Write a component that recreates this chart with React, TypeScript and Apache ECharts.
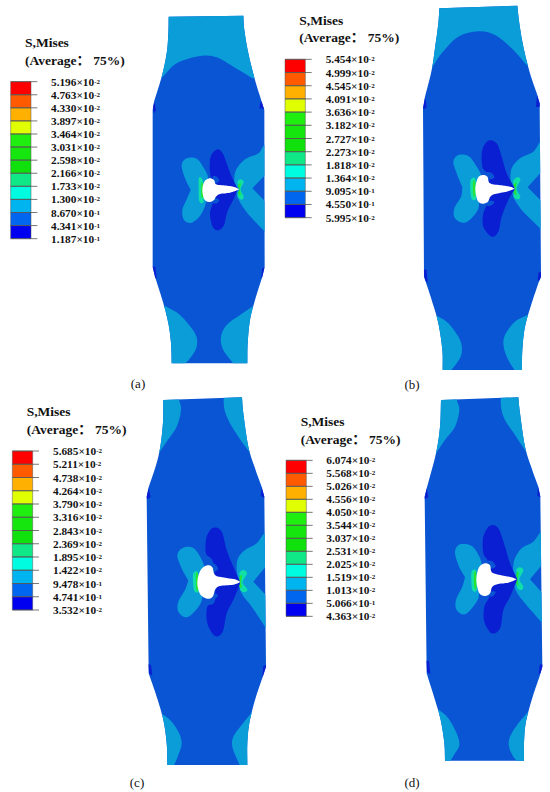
import React, { useEffect, useRef } from "react";
import * as echarts from "echarts";

type P = number[];
const LIGHT = "#0a9dd8", MID = "#0a55d4", DARK = "#0a1fd2", MINT = "#10e0a8", GREEN = "#28e030";
const SCALE_COLORS = ["#ff0000", "#ff5a00", "#ffb000", "#e0ff00", "#20ee10", "#14e60e", "#10e00c", "#10e888", "#00fce0", "#00b4f0", "#0066f0", "#0000f0"];

const labelsA = ["5.196×10^-2", "4.763×10^-2", "4.330×10^-2", "3.897×10^-2", "3.464×10^-2", "3.031×10^-2", "2.598×10^-2", "2.166×10^-2", "1.733×10^-2", "1.300×10^-2", "8.670×10^-1", "4.341×10^-1", "1.187×10^-1"];
const labelsB = ["5.454×10^-2", "4.999×10^-2", "4.545×10^-2", "4.091×10^-2", "3.636×10^-2", "3.182×10^-2", "2.727×10^-2", "2.273×10^-2", "1.818×10^-2", "1.364×10^-2", "9.095×10^-1", "4.550×10^-1", "5.995×10^-2"];
const labelsC = ["5.685×10^-2", "5.211×10^-2", "4.738×10^-2", "4.264×10^-2", "3.790×10^-2", "3.316×10^-2", "2.843×10^-2", "2.369×10^-2", "1.895×10^-2", "1.422×10^-2", "9.478×10^-1", "4.741×10^-1", "3.532×10^-2"];
const labelsD = ["6.074×10^-2", "5.568×10^-2", "5.026×10^-2", "4.556×10^-2", "4.050×10^-2", "3.544×10^-2", "3.037×10^-2", "2.531×10^-2", "2.025×10^-2", "1.519×10^-2", "1.013×10^-2", "5.066×10^-1", "4.363×10^-2"];

// Contour outlines, in 3x panel units; a third entry of 1 marks a sharp corner.
const outlineA: P[] = [[506,50,1],[730,47,1],[733,90],[745,160],[765,240],[785,305,1],[793,330,1],[794,800,1],[787,830,1],[765,900],[750,960],[743,1030],[742,1090,1],[515,1090,1],[513,1030],[505,970],[490,910],[465,830,1],[458,800,1],[458,330,1],[462,305,1],[485,230],[500,160],[505,100]];
const lightA: P[][] = [
  [[420,235,1],[487,232,1],[530,190],[600,168],[650,172],[700,200],[757,235,1],[830,235,1],[830,0,1],[420,0,1]],
  [[420,918,1],[495,918,1],[540,945],[585,1000],[590,1040],[570,1075],[545,1100,1],[420,1100,1]],
  [[830,918,1],[760,918,1],[720,945],[680,975],[663,1010],[670,1050],[708,1100,1],[830,1100,1]],
  [[572,570,1],[555,535],[545,495],[560,475],[590,476],[612,505],[624,535],[610,570],[618,605],[602,645],[575,668],[552,660],[547,630],[560,598]],
  [[830,410,1],[793,435],[775,460],[735,478],[708,510],[703,545],[712,590],[735,630],[770,670],[800,700,1],[830,700,1],[830,640,1],[757,565,1],[830,490,1]],
];
const darkA: P[] = [[652,448],[632,470],[630,520],[640,550],[640,600],[630,640],[638,680],[655,691],[672,675],[682,635],[702,595],[714,568,1],[695,530],[680,490],[668,460]];
const haloA: P[][] = [[[638,530],[650,530],[658,543],[642,550]], [[638,608],[642,594],[658,600],[650,610]]];
const mintA: P[][] = [[[597,533],[608,540],[611,570],[610,606],[598,604],[596,570]], [[712,546],[722,538],[731,546],[722,568],[731,590],[725,599],[714,590],[718,568]]];
const greenA: P[][] = [[[604,552],[609,552],[610,590],[604,590]], [[714,556],[722,550],[720,568],[722,586],[714,580],[718,568]]];
const holeA: P[] = [[628,535],[642,540],[648,553],[670,556],[700,560],[718,568,1],[690,578],[660,582],[648,590],[642,600],[628,606],[613,598],[607,570],[613,545]];

const outlineB: P[] = [[493,25,1],[727,17,1],[733,70],[745,140],[765,220],[787,285,1],[794,310,1],[798,830,1],[790,850,1],[770,910],[750,980],[742,1050],[741,1110,1],[503,1110,1],[502,1050],[490,970],[470,900],[447,830,1],[444,325,1],[450,290,1],[470,210],[482,130],[490,70]];
const lightB: P[][] = [
  [[420,205,1],[470,205,1],[500,160],[550,110],[610,94],[660,105],[710,145],[755,195,1],[830,195,1],[830,0,1],[420,0,1]],
  [[420,945,1],[482,945,1],[520,970],[555,1020],[560,1060],[545,1090],[520,1120,1],[420,1120,1]],
  [[830,945,1],[757,945,1],[720,965],[690,1005],[686,1040],[700,1080],[725,1120,1],[830,1120,1]],
  [[562,562,1],[545,520],[535,485],[550,465],[580,468],[604,498],[618,530],[600,566],[612,610],[602,640],[570,668],[540,655],[538,625],[558,590]],
  [[830,400,1],[796,425],[775,455],[735,475],[710,505],[707,545],[715,590],[740,630],[775,665],[805,695,1],[830,695,1],[830,635,1],[758,562,1],[830,480,1]],
];
const darkB: P[] = [[640,422],[622,450],[622,500],[640,530],[640,600],[625,640],[625,680],[650,710],[670,695],[680,650],[700,600],[720,566,1],[695,520],[680,470],[665,430]];
const haloB: P[][] = [[[632,518],[648,518],[658,532],[642,538]], [[628,612],[640,602],[658,606],[645,618]]];
const mintB: P[][] = [[[587,540],[600,535],[604,570],[602,598],[590,596],[586,570]], [[714,545],[727,532],[736,540],[725,566],[736,590],[728,598],[716,590],[720,566]]];
const greenB: P[][] = [[[594,548],[600,545],[601,585],[595,585]], [[716,555],[724,548],[722,566],[724,584],[716,578],[720,566]]];
const holeB: P[] = [[622,525],[637,530],[645,550],[680,556],[705,560],[720,566,1],[695,575],[660,582],[646,590],[638,606],[622,611],[608,602],[601,568],[608,535]];

const outlineC: P[] = [[490,30,1],[726,22,1],[730,70],[745,170],[765,235],[785,290,1],[793,320,1],[798,830,1],[790,855,1],[765,930],[748,1000],[742,1060],[742,1125,1],[502,1125,1],[500,1060],[490,990],[470,920],[446,850,1],[440,320,1],[445,295,1],[475,200],[488,110]];
const lightC: P[][] = [
  [[420,0,1],[535,0,1],[537,27],[543,60],[530,110],[500,155],[470,198,1],[420,198,1]],
  [[672,0,1],[672,50],[685,90],[715,140],[755,195,1],[830,195,1],[830,0,1]],
  [[420,970,1],[483,970,1],[510,990],[535,1025],[545,1060],[535,1095],[518,1135,1],[420,1135,1]],
  [[830,965,1],[757,965,1],[725,1005],[700,1040],[697,1070],[710,1105],[724,1135,1],[830,1135,1]],
  [[565,572,1],[545,535],[532,495],[550,473],[580,474],[602,503],[612,535],[592,575],[607,620],[592,655],[560,682],[535,665],[535,635],[555,600]],
  [[830,400,1],[793,430],[770,460],[735,480],[712,510],[712,560],[725,610],[755,650],[805,725,1],[830,725,1],[830,650,1],[760,575,1],[830,490,1]],
];
const darkC: P[] = [[640,413],[620,440],[618,490],[640,520],[645,630],[622,650],[622,700],[645,738],[668,725],[680,670],[700,630],[722,578,1],[700,530],[680,480],[665,425]];
const haloC: P[][] = [[[630,522],[645,522],[654,538],[637,545]], [[626,626],[640,612],[654,616],[640,630]]];
const mintC: P[][] = [[[580,550],[592,545],[596,575],[595,605],[583,603],[579,575]], [[718,550],[730,540],[741,550],[728,577],[742,598],[733,607],[720,598],[724,577]]];
const greenC: P[][] = [[[588,553],[594,553],[595,598],[589,598]], [[718,562],[726,556],[723,577],[725,592],[718,590],[720,577]]];
const holeC: P[] = [[622,526],[637,532],[646,556],[680,564],[705,568],[722,576,1],[700,584],[660,588],[646,598],[638,620],[622,626],[600,612],[592,576],[602,540]];

const outlineD: P[] = [[498,30,1],[730,22,1],[735,70],[750,170],[770,235],[790,290,1],[796,320,1],[802,830,1],[795,855,1],[770,930],[752,1000],[747,1060],[747,1112,1],[510,1112,1],[508,1060],[497,990],[480,930],[455,850,1],[449,320,1],[455,295,1],[483,190],[495,110]];
const lightD: P[][] = [
  [[420,0,1],[543,0,1],[545,28],[553,60],[540,110],[510,150],[478,197,1],[420,197,1]],
  [[678,0,1],[678,50],[690,90],[720,135],[760,195,1],[830,195,1],[830,0,1]],
  [[420,960,1],[493,960,1],[520,985],[545,1030],[553,1065],[540,1090],[520,1122,1],[420,1122,1]],
  [[830,965,1],[760,965,1],[730,1000],[705,1040],[702,1070],[715,1100],[735,1122,1],[830,1122,1]],
  [[570,562,1],[550,525],[540,485],[555,463],[590,468],[612,498],[620,530],[602,568],[612,610],[602,640],[570,673],[545,660],[543,630],[562,590]],
  [[830,400,1],[798,425],[775,455],[740,475],[718,510],[715,550],[722,600],[750,640],[785,680],[812,712,1],[830,712,1],[830,640,1],[765,568,1],[830,490,1]],
];
const darkD: P[] = [[645,407],[625,440],[625,490],[640,520],[645,610],[628,650],[628,695],[650,730],[675,715],[685,660],[705,620],[727,568,1],[705,520],[690,470],[670,415]];
const haloD: P[][] = [[[637,514],[652,514],[662,530],[644,535]], [[632,610],[645,604],[662,606],[650,620]]];
const mintD: P[][] = [[[590,545],[602,540],[606,570],[604,602],[592,600],[589,570]], [[724,540],[735,532],[745,542],[733,568],[745,590],[738,600],[726,592],[729,568]]];
const greenD: P[][] = [[[597,550],[603,548],[604,592],[598,592]], [[724,552],[731,546],[728,568],[730,586],[724,582],[726,568]]];
const holeD: P[] = [[630,520],[645,526],[652,548],[690,558],[710,562],[725,568,1],[700,578],[670,582],[652,590],[645,610],[630,618],[612,608],[604,568],[612,532]];

const bevelA: P[][] = [[[457,318,1],[464,308,1],[468,330,1],[462,340,1]], [[793,308,1],[782,304,1],[778,325,1],[795,328,1]], [[456,800,1],[466,800,1],[470,835,1],[462,835,1]], [[796,802,1],[786,805,1],[784,835,1],[796,830,1]]];
const bevelB: P[][] = [[[443,322,1],[450,290,1],[455,322,1],[447,328,1]], [[796,312,1],[786,286,1],[783,320,1],[794,322,1]], [[445,808,1],[455,810,1],[458,848,1],[449,840,1]], [[800,815,1],[790,818,1],[788,842,1],[800,840,1]]];
const bevelC: P[][] = [[[438,320,1],[446,295,1],[452,322,1],[442,328,1]], [[795,318,1],[785,290,1],[782,318,1],[794,324,1]], [[444,822,1],[453,825,1],[457,858,1],[447,850,1]], [[800,825,1],[790,828,1],[787,860,1],[800,850,1]]];
const bevelD: P[][] = [[[447,320,1],[455,295,1],[460,322,1],[449,328,1]], [[798,318,1],[789,290,1],[787,318,1],[798,322,1]], [[453,812,1],[462,812,1],[466,852,1],[456,846,1]], [[804,822,1],[794,824,1],[791,852,1],[804,846,1]]];

const titleLines = ["S,Mises", "(Average： 75%)"];
const captions = ["(a)", "(b)", "(c)", "(d)"];

const panels = [
  { ox: 0, oy: 0, outline: outlineA, light: lightA, dark: darkA, halo: haloA, mint: mintA, green: greenA, hole: holeA, bevel: bevelA, labels: labelsA,
    bar: [32, 93, 112, 153, 245, 716], title: [75, 128, 180], cap: [138, 383] },
  { ox: 275, oy: 0, outline: outlineB, light: lightB, dark: darkB, halo: haloB, mint: mintB, green: greenB, hole: holeB, bevel: bevelB, labels: labelsB,
    bar: [30, 91, 110, 152, 178, 653], title: [73, 62, 113], cap: [412, 384] },
  { ox: 0, oy: 390, outline: outlineC, light: lightC, dark: darkC, halo: haloC, mint: mintC, green: greenC, hole: holeC, bevel: bevelC, labels: labelsC,
    bar: [37, 98, 117, 159, 183, 660], title: [80, 65, 117], cap: [137, 782] },
  { ox: 275, oy: 390, outline: outlineD, light: lightD, dark: darkD, halo: haloD, mint: mintD, green: greenD, hole: holeD, bevel: bevelD, labels: labelsD,
    bar: [33, 94, 113, 154, 211, 679], title: [77, 95, 147], cap: [412, 782] },
];

// Closed Catmull-Rom curve that keeps the flagged corners sharp.
function densify(pts: P[]): number[][] {
  const n = pts.length, out: number[][] = [];
  for (let i = 0; i < n; i++) {
    const p0 = pts[(i - 1 + n) % n], p1 = pts[i], p2 = pts[(i + 1) % n], p3 = pts[(i + 2) % n];
    const t1 = p1[2] ? [p2[0] - p1[0], p2[1] - p1[1]] : [(p2[0] - p0[0]) / 2, (p2[1] - p0[1]) / 2];
    const t2 = p2[2] ? [p2[0] - p1[0], p2[1] - p1[1]] : [(p3[0] - p1[0]) / 2, (p3[1] - p1[1]) / 2];
    const steps = p1[2] && p2[2] ? 1 : 8;
    for (let k = 0; k < steps; k++) {
      const t = k / steps, t2_ = t * t, t3 = t2_ * t;
      const a = 2 * t3 - 3 * t2_ + 1, b = t3 - 2 * t2_ + t, c = -2 * t3 + 3 * t2_, d = t3 - t2_;
      out.push([a * p1[0] + b * t1[0] + c * p2[0] + d * t2[0], a * p1[1] + b * t1[1] + c * p2[1] + d * t2[1]]);
    }
  }
  return out;
}

type Layer = { ox: number; oy: number; pts: P[]; fill: string; clip?: P[] };
const layers: Layer[] = [];
panels.forEach((p) => {
  const add = (pts: P[], fill: string, clip?: P[]) => layers.push({ ox: p.ox, oy: p.oy, pts, fill, clip });
  add(p.outline, MID);
  p.light.forEach((s) => add(s, LIGHT, p.outline));
  add(p.dark, DARK, p.outline);
  p.halo.forEach((s) => add(s, MID, p.outline));
  p.mint.forEach((s) => add(s, MINT, p.outline));
  p.green.forEach((s) => add(s, GREEN, p.outline));
  add(p.hole, "#ffffff");
  p.bevel.forEach((s) => add(s, DARK, p.outline));
});

type Cell = { x0: number; x1: number; y0: number; y1: number; fill: string };
type Tick = { x0: number; x1: number; y: number };
type Lab = { x: number; y: number; text: string; size: number };
const cells: Cell[] = [], ticks: Tick[] = [], labs: Lab[] = [];
panels.forEach((p) => {
  const [bx0, bx1, tx, lx, top, bottom] = p.bar;
  const step = (bottom - top) / 12;
  SCALE_COLORS.forEach((fill, i) => cells.push({
    x0: p.ox + bx0 / 3, x1: p.ox + bx1 / 3, y0: p.oy + (top + i * step) / 3, y1: p.oy + (top + (i + 1) * step) / 3, fill,
  }));
  p.labels.forEach((t, i) => {
    const y = p.oy + (top + i * step) / 3;
    ticks.push({ x0: p.ox + bx0 / 3, x1: p.ox + tx / 3, y });
    labs.push({ x: p.ox + lx / 3, y, text: t, size: 0 });
  });
  const [tlx, y1, y2] = p.title;
  labs.push({ x: p.ox + tlx / 3, y: p.oy + y1 / 3, text: titleLines[0], size: 13.5 });
  labs.push({ x: p.ox + tlx / 3, y: p.oy + y2 / 3, text: titleLines[1], size: 13.5 });
});
const captionLabs = panels.map((p, i) => ({ x: p.cap[0], y: p.cap[1], text: captions[i] }));

const SERIF = '"Liberation Serif", "Noto Sans CJK SC", serif';

export default function App() {
  const ref = useRef<HTMLDivElement>(null);
  useEffect(() => {
    const chart = echarts.init(ref.current!, undefined, { renderer: "svg" });
    const polyPts = (l: { ox: number; oy: number }, pts: P[], api: any) =>
      densify(pts).map(([x, y]) => api.coord([l.ox + x / 3, l.oy + y / 3]));
    chart.setOption({
      animation: false,
      backgroundColor: "#ffffff",
      grid: { left: 0, right: 0, top: 0, bottom: 0 },
      xAxis: { type: "value", min: 0, max: 550, show: false },
      yAxis: { type: "value", min: 0, max: 792, inverse: true, show: false },
      tooltip: { show: false },
      series: [
        {
          type: "custom", coordinateSystem: "cartesian2d", clip: false, silent: true,
          data: layers.map((l) => [l.ox, l.oy]),
          renderItem: (params: any, api: any) => {
            const l = layers[params.dataIndex];
            const el: any = { type: "polygon", shape: { points: polyPts(l, l.pts, api) }, style: { fill: l.fill } };
            if (l.clip) el.clipPath = { type: "polygon", shape: { points: polyPts(l, l.clip, api) } };
            return el;
          },
        },
        {
          type: "custom", coordinateSystem: "cartesian2d", clip: false, silent: true,
          data: cells.map((c) => [c.x0, c.y0]),
          renderItem: (params: any, api: any) => {
            const c = cells[params.dataIndex];
            const a = api.coord([c.x0, c.y0]), b = api.coord([c.x1, c.y1]);
            return { type: "rect", shape: { x: a[0], y: a[1], width: b[0] - a[0], height: b[1] - a[1] }, style: { fill: c.fill, stroke: "#555", lineWidth: 0.5 } };
          },
        },
        {
          type: "custom", coordinateSystem: "cartesian2d", clip: false, silent: true,
          data: ticks.map((t) => [t.x0, t.y]),
          renderItem: (params: any, api: any) => {
            const t = ticks[params.dataIndex];
            const a = api.coord([t.x0, t.y]), b = api.coord([t.x1, t.y]);
            return { type: "line", shape: { x1: a[0], y1: a[1], x2: b[0], y2: b[1] }, style: { stroke: "#555", lineWidth: 0.8 } };
          },
        },
        {
          type: "custom", coordinateSystem: "cartesian2d", clip: false, silent: true,
          data: labs.map((t) => [t.x, t.y]),
          renderItem: (params: any, api: any) => {
            const t = labs[params.dataIndex];
            const p = api.coord([t.x, t.y]);
            if (t.size) {
              return { type: "text", x: p[0], y: p[1], style: { text: t.text, font: `bold ${t.size}px ${SERIF}`, fill: "#111", align: "left", verticalAlign: "middle" } };
            }
            const [m, e] = t.text.split("^");
            return {
              type: "text", x: p[0], y: p[1],
              style: {
                text: `{a|${m}}{s|${e}}`, align: "left", verticalAlign: "middle", fill: "#111",
                rich: {
                  a: { font: `bold 11.3px ${SERIF}`, fill: "#111", height: 12, lineHeight: 12 },
                  s: { font: `bold 7px ${SERIF}`, fill: "#111", verticalAlign: "top", height: 12, lineHeight: 9 },
                },
              },
            };
          },
        },
        {
          type: "custom", coordinateSystem: "cartesian2d", clip: false, silent: true,
          data: captionLabs.map((t) => [t.x, t.y]),
          renderItem: (params: any, api: any) => {
            const t = captionLabs[params.dataIndex];
            const p = api.coord([t.x, t.y]);
            return { type: "text", x: p[0], y: p[1], style: { text: t.text, font: `13px ${SERIF}`, fill: "#111", align: "center", verticalAlign: "middle" } };
          },
        },
      ],
    });
    return () => chart.dispose();
  }, []);
  return <div ref={ref} style={{ position: "absolute", left: 0, top: 0, width: 550, height: 792 }} />;
}
